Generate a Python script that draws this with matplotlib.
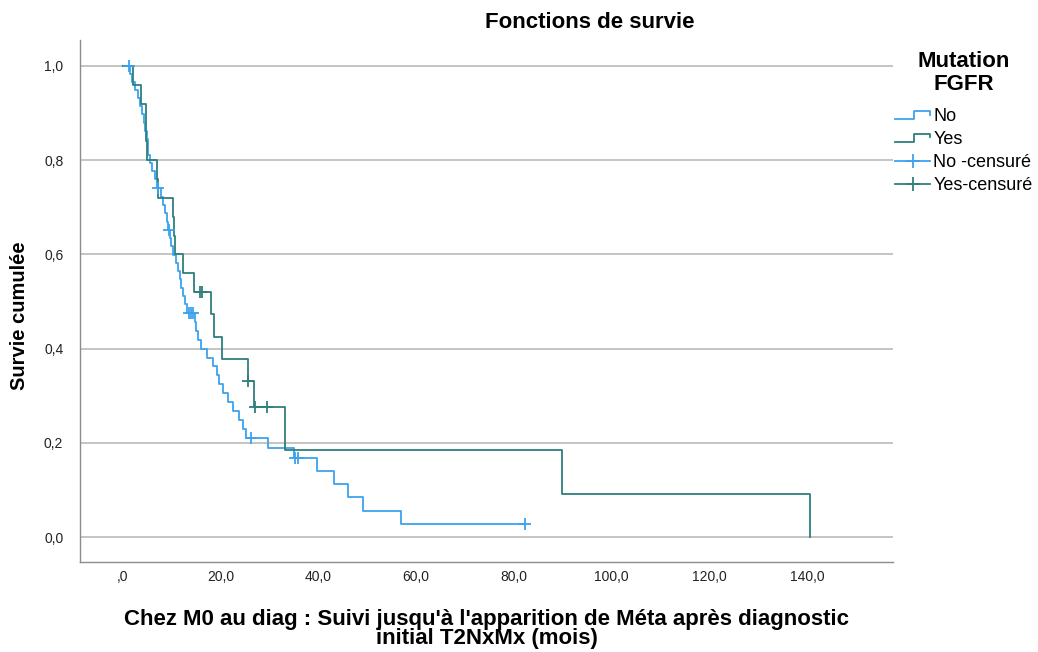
import matplotlib
matplotlib.use("Agg")
import matplotlib.pyplot as plt
from matplotlib.lines import Line2D
from matplotlib.legend_handler import HandlerBase

plt.rcParams['font.family'] = ['Liberation Sans', 'DejaVu Sans']

# ---- data ----
no_times = [0, 1.6, 2.0, 2.6, 3.2, 3.6, 4.0, 4.3, 4.6, 4.9, 5.1, 5.3, 5.6, 6.0, 6.6,
            7.0, 7.8, 8.3, 8.7, 9.0, 9.2, 9.7, 10.0, 10.4, 10.9, 11.3, 11.7, 12.0,
            12.4, 12.8, 13.2, 14.8, 15.1, 15.5, 16.0, 17.3, 18.5, 19.3, 19.8, 20.6,
            21.6, 22.6, 23.8, 24.6, 25.3, 29.7, 35.0, 39.8, 43.2, 46.1, 49.2, 57.0]
no_surv = [1.0, 0.983, 0.966, 0.948, 0.931, 0.914, 0.897, 0.879, 0.862, 0.845, 0.828,
           0.810, 0.793, 0.776, 0.759, 0.740, 0.722, 0.705, 0.687, 0.669, 0.652,
           0.635, 0.617, 0.599, 0.582, 0.564, 0.547, 0.529, 0.511, 0.494, 0.476,
           0.457, 0.438, 0.419, 0.400, 0.381, 0.362, 0.343, 0.324, 0.305, 0.286,
           0.267, 0.248, 0.229, 0.210, 0.189, 0.168, 0.140, 0.112, 0.084, 0.056, 0.028]
no_end = 82.2
no_cens_t = [1.3, 7.3, 9.4, 13.6, 13.9, 14.3, 26.2, 35.3, 35.8, 82.2]

yes_times = [0, 2.2, 3.8, 4.8, 4.85, 4.9, 7.1, 7.3, 10.4, 10.6, 10.8, 12.4, 14.7,
             18.1, 18.7, 20.4, 25.6, 26.9, 33.3, 89.8, 140.5]
yes_surv = [1.0, 0.96, 0.92, 0.88, 0.84, 0.80, 0.76, 0.72, 0.68, 0.64, 0.60, 0.56,
            0.52, 0.4727, 0.4255, 0.3782, 0.3309, 0.2758, 0.1838, 0.0919, 0.0]
yes_end = 140.5
yes_cens_t = [15.8, 16.3, 25.7, 27.0, 29.6]

x_ticks = [0, 20, 40, 60, 80, 100, 120, 140]
x_labels = [",0", "20,0", "40,0", "60,0", "80,0", "100,0", "120,0", "140,0"]
y_ticks = [0.0, 0.2, 0.4, 0.6, 0.8, 1.0]
y_labels = ["0,0", "0,2", "0,4", "0,6", "0,8", "1,0"]

c_no = "#3ba3ee"
c_yes = "#2f7f7c"


def level_at(times, surv, t):
    v = surv[0]
    for ti, si in zip(times, surv):
        if ti <= t:
            v = si
    return v


fig = plt.figure(figsize=(10.38, 6.52), dpi=100)
ax = fig.add_axes([80 / 1038, 1 - 562 / 652, (893 - 80) / 1038, (562 - 40) / 652])

for times, surv, end, cens, col in [(no_times, no_surv, no_end, no_cens_t, c_no),
                                    (yes_times, yes_surv, yes_end, yes_cens_t, c_yes)]:
    xs = list(times) + [end]
    ys = list(surv) + [surv[-1]]
    ax.step(xs, ys, where='post', color=col, lw=1.3, zorder=3)
    cy = [level_at(times, surv, t) for t in cens]
    ax.plot(cens, cy, ls='none', marker='+', ms=9, mew=1.3, color=col, zorder=4)

ax.set_xlim(-8.7, 157.5)
ax.set_ylim(-0.053, 1.055)
ax.set_xticks(x_ticks)
ax.set_xticklabels(x_labels)
ax.set_yticks(y_ticks)
ax.set_yticklabels(y_labels)
ax.tick_params(axis='y', length=0, labelsize=10, colors='#222222', pad=12)
ax.tick_params(axis='x', length=0, labelsize=10, colors='#222222', pad=6)
ax.yaxis.grid(True, color='#b4b4b4', lw=1.1)
ax.set_axisbelow(True)
for s in ['top', 'right']:
    ax.spines[s].set_visible(False)
for s in ['left', 'bottom']:
    ax.spines[s].set_color('#8c8c8c')
    ax.spines[s].set_linewidth(1.0)

fig.text(590 / 1038, 1 - 22 / 652, "Fonctions de survie", ha='center', va='center',
         fontsize=16, fontweight='bold')
fig.text(20 / 1038, 1 - 316 / 652, "Survie cumulée", rotation=90, ha='center',
         va='center', fontsize=14.5, fontweight='bold')
fig.text(487 / 1038, 1 - 629 / 652,
         "Chez M0 au diag : Suivi jusqu'à l'apparition de Méta après diagnostic\ninitial T2NxMx (mois)",
         ha='center', va='center', fontsize=16, fontweight='bold', linespacing=0.9)


class StepHandler(HandlerBase):
    def create_artists(self, legend, orig_handle, xdescent, ydescent, width, height,
                       fontsize, trans):
        x0 = -xdescent
        xs = [x0, x0 + 0.55 * width, x0 + 0.55 * width, x0 + width, x0 + width]
        y0 = -ydescent
        ys = [y0 + 0.2 * height, y0 + 0.2 * height, y0 + 0.85 * height,
              y0 + 0.85 * height, y0 + 0.55 * height]
        ln = Line2D(xs, ys, color=orig_handle.get_color(), lw=1.3, transform=trans)
        return [ln]


h_no = Line2D([], [], color=c_no)
h_yes = Line2D([], [], color=c_yes)
h_noc = Line2D([], [], color=c_no, marker='+', ms=10, mew=1.3, lw=1.3)
h_yesc = Line2D([], [], color=c_yes, marker='+', ms=10, mew=1.3, lw=1.3)

leg = fig.legend([h_no, h_yes, h_noc, h_yesc], ["No", "Yes", "No -censuré", "Yes-censuré"],
                 handler_map={h_no: StepHandler(), h_yes: StepHandler()},
                 loc='upper left', bbox_to_anchor=(895 / 1038, 1 - 51 / 652),
                 frameon=False, fontsize=13, numpoints=1, handlelength=1.95,
                 handletextpad=0.17, labelspacing=0.32, borderpad=0, borderaxespad=0,
                 title="Mutation\nFGFR", title_fontproperties={'weight': 'bold', 'size': 16})
leg.get_title().set_multialignment('center')
leg.get_title().set_linespacing(1.1)
leg._legend_box.sep = 10

fig.savefig("out.png", dpi=100)
